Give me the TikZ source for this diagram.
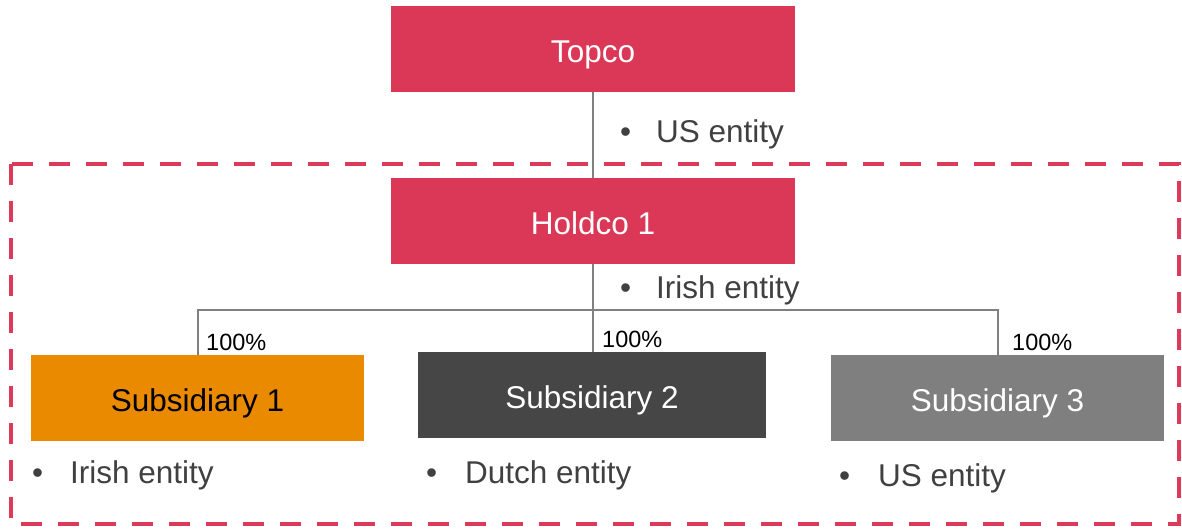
\documentclass[tikz,border=0pt]{standalone}
\usepackage{fontspec}
\setmainfont{Liberation Sans}
\definecolor{brandred}{HTML}{DA3856}
\definecolor{dashred}{HTML}{DC3A58}
\definecolor{suborange}{HTML}{E98A00}
\definecolor{subdark}{HTML}{464646}
\definecolor{subgray}{HTML}{7F7F7F}
\definecolor{linegray}{HTML}{808080}
\definecolor{txtgray}{HTML}{404040}
\tikzset{
  entitybox/.style={draw=none, inner sep=0pt, text height=26pt, text depth=0pt,
    minimum height=86pt, font=\fontsize{31.5}{36}\selectfont},
  redbox/.style={entitybox, fill=brandred, text=white, minimum width=404pt},
  subbox/.style={entitybox, minimum width=333pt},
  conn/.style={draw=linegray, line width=2pt},
  groupline/.style={draw=dashred, line width=4pt, dash pattern=on 21pt off 16pt},
  bulletnote/.style={anchor=base west, inner sep=0pt, text=txtgray, font=\fontsize{31.5}{36}\selectfont},
  pct/.style={anchor=base west, inner sep=0pt, text=black, font=\fontsize{23.5}{28}\selectfont}
}
\newcommand{\bulletitem}[2]{\makebox[#1][l]{\hspace{1pt}•}#2}
\begin{document}
\begin{tikzpicture}[x=1pt,y=-1pt]
\useasboundingbox (0,0) rectangle (1182,528);
% group boundary
\draw[groupline] (11,164) rectangle (1179,524);
% boxes
\node[redbox] (topco) at (593,49) {Topco};
\node[redbox] (holdco) at (593,221) {Holdco 1};
\node[subbox, fill=suborange, text=black] (s1) at (197.5,398) {Subsidiary 1};
\node[subbox, fill=subdark, text=white, minimum width=348pt] (s2) at (592,395) {Subsidiary 2};
\node[subbox, fill=subgray, text=white] (s3) at (997.5,398) {Subsidiary 3};
\coordinate (j) at (593,310);
% connectors
\draw[conn] (topco.south) -- (holdco.north);
\draw[conn] (holdco.south) -- (holdco.south |- s2.north);
\draw[conn] (s1.north) -- (s1.north |- j) -- (s3.north |- j) -- (s3.north);
% notes
\node[bulletnote] (n0) at (619,142) {\bulletitem{37pt}{US entity}};
\node[bulletnote] (n1) at (619,298) {\bulletitem{37pt}{Irish entity}};
\node[bulletnote] (n2) at (31,483) {\bulletitem{39pt}{Irish entity}};
\node[bulletnote] (n3) at (425,483) {\bulletitem{40pt}{Dutch entity}};
\node[bulletnote] (n4) at (838,486) {\bulletitem{40pt}{US entity}};
% percentages
\node[pct] (p1) at (206,350) {100\%};
\node[pct] (p2) at (602,347) {100\%};
\node[pct] (p3) at (1012,350) {100\%};
\end{tikzpicture}
\end{document}
